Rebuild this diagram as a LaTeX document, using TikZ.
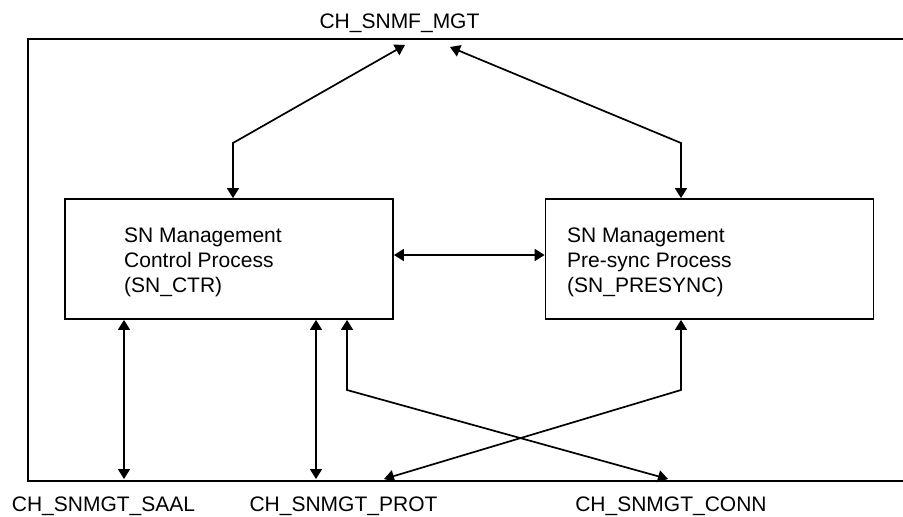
\documentclass[tikz,border=0pt]{standalone}
\usepackage{fontspec}
\setmainfont{Liberation Sans}
\usetikzlibrary{arrows.meta}
\begin{document}
\begin{tikzpicture}[x=1pt,y=-1pt,
  arr/.style={line width=1.7pt,{Triangle[length=10pt,width=12pt]}-{Triangle[length=10pt,width=12pt]}},
  procbox/.style={draw,line width=1.8pt,minimum width=328pt,minimum height=120pt,inner sep=0pt},
  boxtext/.style={font=\fontsize{21}{25}\selectfont,align=left,inner sep=0pt,anchor=west},
  chan/.style={font=\fontsize{21}{25}\selectfont,inner sep=0pt,anchor=base}]
\useasboundingbox (0,0) rectangle (903,517);
\draw[line width=1.3pt] (903,39) -- (28,39) -- (28,481) -- (903,481);

\node[procbox] (ctr) at (229,259) {};
\node[procbox] (pre) at (709.5,259) {};
\node[boxtext] (ctrtxt) at (124,262.7) {SN Management\\Control Process\\(SN\_CTR)};
\node[boxtext] (pretxt) at (567,262.7) {SN Management\\Pre-sync Process\\(SN\_PRESYNC)};

\node[chan] (mgt) at (399.5,28) {CH\_SNMF\_MGT};
\node[chan] (saal) at (103.5,511) {CH\_SNMGT\_SAAL};
\node[chan] (prot) at (343.5,511) {CH\_SNMGT\_PROT};
\node[chan] (conn) at (671,511) {CH\_SNMGT\_CONN};

\coordinate (mgtL) at (405,45);
\coordinate (mgtR) at (450,47);
\coordinate (bendL) at (233,143);
\coordinate (bendR) at (681,143);
\coordinate (hmid) at (470,255);
\coordinate (saalEnd) at (124,479);
\coordinate (protEnd) at (316,479);
\coordinate (protX) at (384,479);
\coordinate (connX) at (668,479);
\coordinate (crossL) at (347,390);
\coordinate (crossR) at (681,390);

\draw[arr] (ctr.north -| bendL) -- (bendL) -- (mgtL);
\draw[arr] (pre.north -| bendR) -- (bendR) -- (mgtR);
\draw[arr] (ctr.east |- hmid) -- (pre.west |- hmid);
\draw[arr] (ctr.south -| saalEnd) -- (saalEnd);
\draw[arr] (ctr.south -| protEnd) -- (protEnd);
\draw[arr] (ctr.south -| crossL) -- (crossL) -- (connX);
\draw[arr] (pre.south -| crossR) -- (crossR) -- (protX);
\end{tikzpicture}
\end{document}
